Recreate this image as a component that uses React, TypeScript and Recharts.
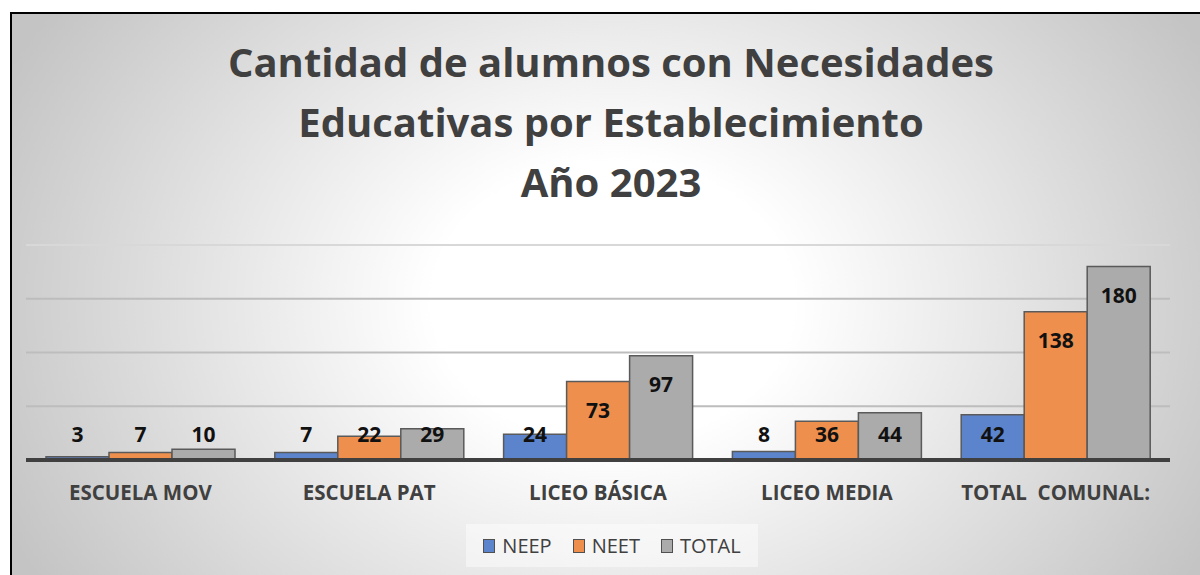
import { Bar, BarChart, CartesianGrid, LabelList, ReferenceLine, XAxis, YAxis } from 'recharts'

const TITLE_LINES = ['Cantidad de alumnos con Necesidades', 'Educativas por Establecimiento', 'Año 2023']
const CATEGORIES = ['ESCUELA MOV', 'ESCUELA PAT', 'LICEO BÁSICA', 'LICEO MEDIA', 'TOTAL  COMUNAL:']
const NEEP = [3, 7, 24, 8, 42]
const NEET = [7, 22, 73, 36, 138]
const TOTAL = [10, 29, 97, 44, 180]
const Y_TICKS = [0, 50, 100, 150, 200]

const SERIES = [
  { key: 'NEEP', values: NEEP, color: '#5b84cc' },
  { key: 'NEET', values: NEET, color: '#ee8f4e' },
  { key: 'TOTAL', values: TOTAL, color: '#ababab' },
]

const data = CATEGORIES.map((name, i) => ({
  name,
  NEEP: NEEP[i],
  NEET: NEET[i],
  TOTAL: TOTAL[i],
}))

const FONT = '"Open Sans", Calibri, sans-serif'

// Excel-style "inside end" label, pushed down to sit just above the axis for short bars
function ValueLabel(props: any) {
  const { x, y, width, height, value } = props
  const bottom = y + height
  const ly = Math.min(y + 36, bottom - 18)
  return (
    <text
      x={x + width / 2}
      y={ly}
      textAnchor="middle"
      fontFamily={FONT}
      fontWeight={700}
      fontSize={21}
      fill="#111"
    >
      {value}
    </text>
  )
}

function CategoryTick({ x, y, payload }: any) {
  return (
    <text
      x={x}
      y={y}
      dy={40}
      textAnchor="middle"
      fontFamily={FONT}
      fontWeight={700}
      fontSize={20.5}
      fill="#404040"
      style={{ whiteSpace: 'pre' }}
    >
      {payload.value}
    </text>
  )
}

export default function App() {
  return (
    <div
      style={{
        position: 'absolute',
        left: 0,
        top: 0,
        width: 1200,
        height: 575,
        overflow: 'hidden',
        background: '#fff',
      }}
    >
      <div
        style={{
          position: 'absolute',
          left: 10,
          top: 12,
          width: 1202,
          height: 600,
          borderLeft: '2px solid #000',
          borderTop: '2px solid #000',
          background:
            'radial-gradient(900px 700px at 601px 288px, #ffffff 0%, #ffffff 20%, #c4c4c4 75%)',
        }}
      />
      <div
        style={{
          position: 'absolute',
          left: 10,
          top: 32,
          width: 1202,
          textAlign: 'center',
          fontFamily: FONT,
          fontWeight: 700,
          fontSize: 40,
          lineHeight: '60px',
          color: '#404040',
        }}
      >
        {TITLE_LINES.map((t) => (
          <div key={t}>{t}</div>
        ))}
      </div>
      <div style={{ position: 'absolute', left: 0, top: 0 }}>
        <BarChart
          width={1200}
          height={575}
          data={data}
          margin={{ top: 245, right: 30, left: 26, bottom: 85 }}
          barCategoryGap={20}
          barGap={0}
        >
          <CartesianGrid vertical={false} stroke="#bdbdbd" strokeWidth={2} />
          <YAxis hide domain={[0, 200]} ticks={Y_TICKS} />
          <ReferenceLine y={200} stroke="#d8d8d8" strokeWidth={2} />
          <XAxis
            dataKey="name"
            height={30}
            interval={0}
            tickLine={false}
            tickSize={0}
            tickMargin={0}
            axisLine={{ stroke: '#404040', strokeWidth: 4 }}
            tick={<CategoryTick />}
          />
          {SERIES.map((s) => (
            <Bar
              key={s.key}
              dataKey={s.key}
              fill={s.color}
              stroke="#5a5a5a"
              strokeWidth={1.5}
              isAnimationActive={false}
            >
              <LabelList dataKey={s.key} content={<ValueLabel />} />
            </Bar>
          ))}
        </BarChart>
      </div>
      <div
        style={{
          position: 'absolute',
          left: 466,
          top: 524,
          width: 292,
          height: 43,
          background: 'rgba(255,255,255,0.45)',
          display: 'flex',
          alignItems: 'center',
          justifyContent: 'center',
          gap: 21,
          fontFamily: FONT,
          fontSize: 20,
          color: '#404040',
        }}
      >
        {SERIES.map((s) => (
          <div key={s.key} style={{ display: 'flex', alignItems: 'center', gap: 7 }}>
            <span
              style={{
                display: 'inline-block',
                width: 10,
                height: 12,
                background: s.color,
                border: '1.5px solid #505050',
              }}
            />
            <span>{s.key}</span>
          </div>
        ))}
      </div>
    </div>
  )
}
